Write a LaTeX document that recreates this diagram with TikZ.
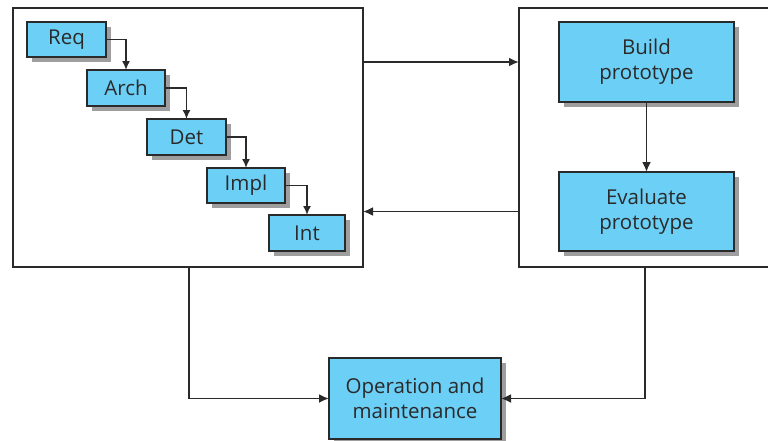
\documentclass[tikz,border=0pt]{standalone}
\usepackage{fontspec}
\setmainfont{Open Sans}
\usetikzlibrary{arrows.meta,shadows}
\definecolor{boxblue}{HTML}{6CCFF6}
\definecolor{ink}{HTML}{2A2A2A}
\begin{document}
\begin{tikzpicture}[x=1pt,y=-1pt,
  every node/.style={inner sep=0pt, outer sep=0pt, text=ink},
  stage/.style={draw=ink, line width=2pt, fill=boxblue, align=center,
    font=\fontsize{20.5}{25}\selectfont,
    drop shadow={shadow xshift=5pt, shadow yshift=-5pt, fill=black!38, opacity=1}},
  frame/.style={draw=ink, line width=2pt},
  link/.style={draw=ink, line width=1.9pt, -{Latex[length=10pt,width=9pt]}},
  step link/.style={draw=ink, line width=1.6pt, -{Latex[length=9pt,width=8pt]}}
]
\useasboundingbox (0,0) rectangle (768,440);
\clip (0,0) rectangle (768,440);

% enclosing frames
\node[frame, minimum width=350pt, minimum height=259pt] (lb) at (188,137.5) {};
\node[frame, minimum width=280pt, minimum height=259pt] (rb) at (659,137.5) {};

% waterfall stages
\node[stage, minimum width=79pt, minimum height=35pt] (req)  at (66.5,39.5) {Req};
\node[stage, minimum width=78pt, minimum height=36pt] (arch) at (126,88) {Arch};
\node[stage, minimum width=79pt, minimum height=36pt] (det)  at (186.5,137) {Det};
\node[stage, minimum width=78pt, minimum height=35pt] (impl) at (246,185.5) {Impl};
\node[stage, minimum width=76pt, minimum height=36pt] (int)  at (307,233) {Int};

% prototyping stages
\node[stage, minimum width=175pt, minimum height=80pt] (build) at (646.5,62) {Build\\prototype};
\node[stage, minimum width=175pt, minimum height=79pt] (eval)  at (646.5,211.5) {Evaluate\\prototype};

% final stage
\node[stage, minimum width=172pt, minimum height=81pt] (op) at (415,398.5) {Operation and\\maintenance};

% waterfall links
\draw[step link] (req.east) -| (arch.north);
\draw[step link] (arch.east) -| (det.north);
\draw[step link] (det.east) -| (impl.north);
\draw[step link] (impl.east) -| (int.north);

% links between frames
\draw[link] (lb.east |- build) -- (rb.west |- build);
\draw[link] (rb.west |- eval) -- (lb.east |- eval);
\draw[link] (build.south) -- (eval.north);

\coordinate (lbout) at (189,267);
\coordinate (rbout) at (645,267);
\draw[link] (lbout) |- (op.west);
\draw[link] (rbout) |- (op.east);
\end{tikzpicture}
\end{document}
